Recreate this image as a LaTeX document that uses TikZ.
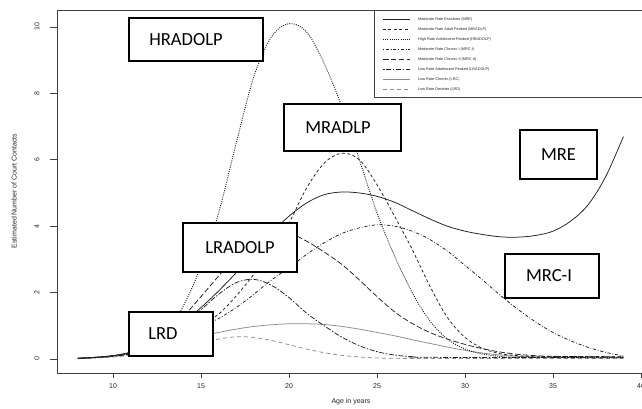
\documentclass[tikz,border=0pt]{standalone}
\usepackage{fontspec}
\setmainfont{Liberation Sans}
\newfontfamily\boxfont{Carlito}
\begin{document}
\begin{tikzpicture}[x=1pt,y=1pt,
  frameline/.style={line width=0.8pt, color=black!75},
  tickline/.style={line width=0.6pt, color=black!75},
  ticklab/.style={font=\fontsize{7}{8}\selectfont, text=black!85, inner sep=0pt},
  curvebase/.style={line width=0.75pt, smooth, tension=0.55},
  mre/.style={curvebase, color=black!88},
  mradlp/.style={curvebase, color=black!88, dash pattern=on 3pt off 2.4pt},
  hradolp/.style={curvebase, color=black!90, line width=0.95pt, dash pattern=on 0.9pt off 1.3pt},
  mrci/.style={curvebase, color=black!88, dash pattern=on 0.8pt off 1.8pt on 3.2pt off 1.8pt},
  mrcii/.style={curvebase, color=black!88, dash pattern=on 5.5pt off 2.4pt},
  lradolp/.style={curvebase, color=black!88, dash pattern=on 1.6pt off 1.6pt on 5pt off 1.6pt},
  lrc/.style={curvebase, color=black!45},
  lrd/.style={curvebase, color=black!45, dash pattern=on 4pt off 3pt},
  lbox/.style={draw=black, line width=1.7pt, fill=white, inner sep=0pt,
    font=\boxfont\fontsize{18.5}{20}\selectfont},
  legtext/.style={anchor=west, inner sep=0pt, text=black!85, font=\fontsize{3.8}{4.5}\selectfont}
]
\useasboundingbox (0,0) rectangle (642,409);
\clip (0,0) rectangle (642,409);
\fill[white] (0,0) rectangle (642,409);

% frame
\draw[frameline] (648,399) -- (57,399) -- (57,36) -- (648,36);

% y ticks
\foreach \v in {0,2,4,6,8,10}{
  \draw[tickline] (57,{50+33.2*\v}) -- (50,{50+33.2*\v});
  \node[ticklab, rotate=90] (yl\v) at (37,{50+33.2*\v}) {\v};
}
% x ticks
\foreach \a in {10,15,20,25,30,35,40}{
  \draw[tickline] ({-63+17.6*\a},36) -- ({-63+17.6*\a},31);
  \node[ticklab] (xl\a) at ({-63+17.6*\a},23) {\a};
}
\node[ticklab, rotate=90] (ylab) at (14,218) {Estimated Number of Court Contacts};
\node[ticklab] (xlab) at (351,7) {Age in years};

% curves
\begin{scope}[shift={(-63pt,50pt)}, x=17.6pt, y=33.2pt]
\draw[lrd] plot coordinates {(8,0.01)(9,0.03)(10,0.06)(11,0.11)(12,0.18)(13,0.27)(14,0.38)(15,0.5)(16,0.6)(17,0.67)(18,0.65)(19,0.56)(20,0.43)(21,0.3)(22,0.19)(23,0.11)(24,0.06)(25,0.03)(26,0.02)(30,0.015)(39,0.015)};
\draw[lrc] plot coordinates {(8,0.02)(9,0.05)(10,0.1)(11,0.18)(12,0.3)(13,0.42)(14,0.55)(15,0.68)(16,0.8)(17,0.9)(18,0.98)(19,1.03)(20,1.06)(21,1.06)(22,1.04)(23,0.98)(24,0.9)(25,0.8)(26,0.7)(27,0.58)(28,0.47)(29,0.36)(30,0.26)(31,0.18)(32,0.12)(33,0.08)(34,0.06)(35,0.05)(39,0.05)};
\draw[lradolp] plot coordinates {(8,0.02)(9,0.05)(10,0.1)(11,0.2)(12,0.36)(13,0.62)(14,1.0)(15,1.48)(16,1.95)(17,2.3)(18,2.4)(19,2.22)(20,1.85)(21,1.38)(22,1.0)(23,0.66)(24,0.4)(25,0.22)(26,0.12)(27,0.07)(28,0.05)(39,0.04)};
\draw[mrcii] plot coordinates {(8,0.02)(9,0.05)(10,0.1)(11,0.2)(12,0.42)(13,0.8)(14,1.28)(15,1.88)(16,2.5)(17,3.1)(18,3.6)(19,3.85)(20,3.8)(21,3.55)(22,3.22)(23,2.85)(24,2.38)(25,1.88)(26,1.42)(27,1.07)(28,0.8)(29,0.6)(30,0.44)(31,0.31)(32,0.21)(33,0.14)(34,0.1)(35,0.08)(39,0.06)};
\draw[mrci] plot coordinates {(8,0.02)(9,0.04)(10,0.08)(11,0.15)(12,0.28)(13,0.48)(14,0.72)(15,0.97)(16,1.22)(17,1.55)(18,1.95)(19,2.38)(20,2.75)(21,3.15)(22,3.5)(23,3.78)(24,3.95)(25,4.04)(26,4.0)(27,3.85)(28,3.6)(29,3.25)(30,2.82)(31,2.38)(32,1.92)(33,1.5)(34,1.12)(35,0.8)(36,0.55)(37,0.35)(38,0.2)(39,0.09)};
\draw[hradolp] plot coordinates {(8,0.02)(9,0.05)(10,0.09)(11,0.17)(12,0.38)(13,0.8)(14,1.6)(15,2.8)(16,4.4)(17,6.5)(18,8.5)(19,9.7)(20,10.1)(21,9.85)(22,8.9)(23,7.6)(24,6.0)(25,4.4)(26,3.1)(27,2.0)(28,1.15)(29,0.6)(30,0.3)(31,0.15)(32,0.08)(33,0.05)(39,0.04)};
\draw[mradlp] plot coordinates {(8,0.02)(9,0.04)(10,0.08)(11,0.15)(12,0.27)(13,0.45)(14,0.7)(15,1.0)(16,1.35)(17,1.9)(18,2.55)(19,3.3)(20,4.1)(21,5.15)(22,5.9)(23,6.2)(24,6.0)(25,5.25)(26,4.3)(27,3.3)(28,2.2)(29,1.25)(30,0.65)(31,0.32)(32,0.16)(33,0.1)(34,0.08)(39,0.07)};
\draw[mre] plot coordinates {(8,0.02)(9,0.05)(10,0.1)(11,0.2)(12,0.4)(13,0.72)(14,1.1)(15,1.55)(16,2.05)(17,2.6)(18,3.2)(19,3.8)(20,4.3)(21,4.7)(22,4.95)(23,5.03)(24,5.0)(25,4.9)(26,4.72)(27,4.47)(28,4.22)(29,4.0)(30,3.85)(31,3.75)(32,3.68)(33,3.67)(34,3.72)(35,3.85)(36,4.15)(37,4.65)(38,5.5)(39,6.7)};
\end{scope}

% legend
\draw[frameline, fill=white] (374,312) rectangle (650,399);
\foreach \i/\sty/\txt in {
  0/mre/{Moderate Rate Escalator (MRE)},
  1/mradlp/{Moderate Rate Adult Peaked (MRADLP)},
  2/hradolp/{High Rate Adolescent Peaked (HRADOLP)},
  3/mrci/{Moderate Rate Chronic I (MRC-I)},
  4/mrcii/{Moderate Rate Chronic II (MRC-II)},
  5/lradolp/{Low Rate Adolescent Peaked (LRADOLP)},
  6/lrc/{Low Rate Chronic (LRC)},
  7/lrd/{Low Rate Desister (LRD)}}{
  \coordinate (ls\i) at (383,{389.7-10*\i});
  \coordinate (le\i) at (410,{389.7-10*\i});
  \draw[\sty, line width=0.6pt] (ls\i) -- (le\i);
  \node[legtext] (lt\i) at (418,{389.7-10*\i}) {\txt};
}

% label boxes
\node[lbox, minimum width=134pt, minimum height=43pt] (hr) at (196,369.5) {\hspace*{-20pt}HRADOLP};
\node[lbox, minimum width=117pt, minimum height=47pt] (mr) at (342.5,281.5) {\hspace*{-9pt}MRADLP};
\node[lbox, minimum width=77pt, minimum height=49pt] (mre) at (558.5,254.5) {MRE};
\node[lbox, minimum width=94pt, minimum height=44pt] (mrc) at (552,133) {\hspace*{-6pt}MRC-I};
\node[lbox, minimum width=114pt, minimum height=49pt] (lra) at (240,161.5) {LRADOLP};
\node[lbox, minimum width=84pt, minimum height=44pt] (lrd) at (171,75) {\hspace*{-16pt}LRD};
\end{tikzpicture}
\end{document}
